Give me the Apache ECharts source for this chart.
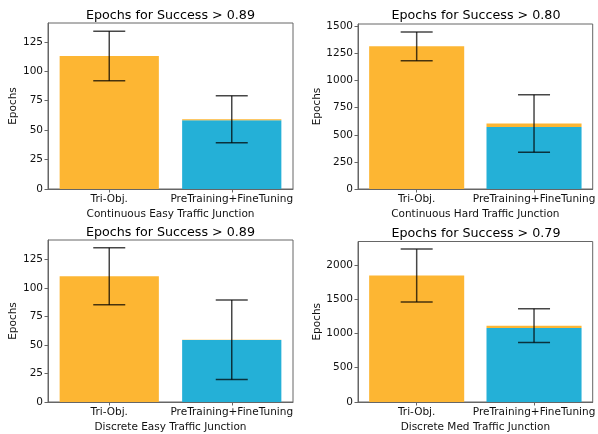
<!DOCTYPE html>
<html><head><meta charset="utf-8">
<script src="https://cdn.jsdelivr.net/npm/echarts@6/dist/echarts.min.js"></script>
<style>html,body{margin:0;padding:0;background:#fff}#c{width:598px;height:434px}</style>
</head><body><div id="c"></div>
<script>
const categories = ['Tri-Obj.', 'PreTraining+FineTuning'];
const panelTitles = ['Epochs for Success > 0.89', 'Epochs for Success > 0.80', 'Epochs for Success > 0.89', 'Epochs for Success > 0.79'];
const panelXNames = ['Continuous Easy Traffic Junction', 'Continuous Hard Traffic Junction', 'Discrete Easy Traffic Junction', 'Discrete Med Traffic Junction'];
const triMean = [113, 1316, 110.2, 1846];
const triErr = [21, 132, 25, 385];
const fineTunePart = [58.5, 571, 54.3, 1081];
const preTrainPart = [0.7, 33, 0.3, 33];
const ptErr = [20, 265, 34.8, 247];
const yMax = [141, 1522, 142, 2342];
const yTicks = [
  [0, 25, 50, 75, 100, 125],
  [0, 250, 500, 750, 1000, 1250, 1500],
  [0, 25, 50, 75, 100, 125],
  [0, 500, 1000, 1500, 2000]
];

const ORANGE = '#fdb633', BLUE = '#24b0d7', FRAME = '#666', FONT = 'DejaVu Sans';
const grids = [
  {left: 48, top: 23, width: 245, height: 166},
  {left: 358, top: 24, width: 236, height: 165},
  {left: 48, top: 240, width: 245, height: 165},
  {left: 358, top: 241.5, width: 236, height: 163.5}
];
const titleY = [9, 9, 226, 227];
const nameGapY = [28, 34, 28, 34];

const option = {animation: false, grid: [], xAxis: [], yAxis: [], series: [], title: []};
grids.forEach((g, i) => {
  option.grid.push(Object.assign({show: true, borderColor: FRAME, borderWidth: 1, backgroundColor: 'transparent'}, g));
  option.title.push({
    text: panelTitles[i], left: g.left + g.width / 2, top: titleY[i], textAlign: 'center', padding: 0,
    textStyle: {fontFamily: FONT, fontSize: 12.7, fontWeight: 'normal', color: '#000'}
  });
  option.xAxis.push({
    type: 'category', gridIndex: i, data: categories,
    name: panelXNames[i], nameLocation: 'middle', nameGap: 20,
    nameTextStyle: {fontFamily: FONT, fontSize: 10.5, color: '#111'},
    axisLine: {show: true, lineStyle: {color: FRAME, width: 1}},
    axisTick: {show: true, alignWithLabel: true, length: 3.5, lineStyle: {color: FRAME}},
    axisLabel: {fontFamily: FONT, fontSize: 10.5, color: '#111', margin: 5, interval: 0},
    splitLine: {show: false}
  });
  option.yAxis.push({
    type: 'value', gridIndex: i, min: 0, max: yMax[i],
    name: 'Epochs', nameLocation: 'middle', nameGap: nameGapY[i],
    nameTextStyle: {fontFamily: FONT, fontSize: 10.5, color: '#111'},
    axisLine: {show: true, lineStyle: {color: FRAME, width: 1}},
    axisTick: {show: true, length: 3.5, lineStyle: {color: FRAME}, customValues: yTicks[i]},
    axisLabel: {fontFamily: FONT, fontSize: 10.5, color: '#111', margin: 5, customValues: yTicks[i],
      formatter: v => String(v)},
    splitLine: {show: false}
  });
  option.series.push({
    type: 'bar', xAxisIndex: i, yAxisIndex: i, stack: 's' + i, barWidth: '81%',
    data: [
      {value: triMean[i], itemStyle: {color: ORANGE}},
      {value: fineTunePart[i], itemStyle: {color: BLUE}}
    ]
  });
  option.series.push({
    type: 'bar', xAxisIndex: i, yAxisIndex: i, stack: 's' + i, barWidth: '81%',
    data: ['-', {value: preTrainPart[i], itemStyle: {color: ORANGE}}]
  });
  const errData = [
    [0, triMean[i] - triErr[i], triMean[i] + triErr[i]],
    [1, fineTunePart[i] + preTrainPart[i] - ptErr[i], fineTunePart[i] + preTrainPart[i] + ptErr[i]]
  ];
  option.series.push({
    type: 'custom', xAxisIndex: i, yAxisIndex: i, z: 10,
    data: errData,
    renderItem: function (params, api) {
      const lo = api.coord([api.value(0), api.value(1)]);
      const hi = api.coord([api.value(0), api.value(2)]);
      const cap = 16;
      const st = {stroke: 'rgba(0,0,0,0.72)', lineWidth: 1.5};
      return {type: 'group', children: [
        {type: 'line', shape: {x1: lo[0], y1: lo[1], x2: hi[0], y2: hi[1]}, style: st},
        {type: 'line', shape: {x1: lo[0] - cap, y1: lo[1], x2: lo[0] + cap, y2: lo[1]}, style: st},
        {type: 'line', shape: {x1: hi[0] - cap, y1: hi[1], x2: hi[0] + cap, y2: hi[1]}, style: st}
      ]};
    }
  });
});
const chart = echarts.init(document.getElementById('c'), null, {renderer: 'canvas'});
chart.setOption(option);
</script></body></html>
